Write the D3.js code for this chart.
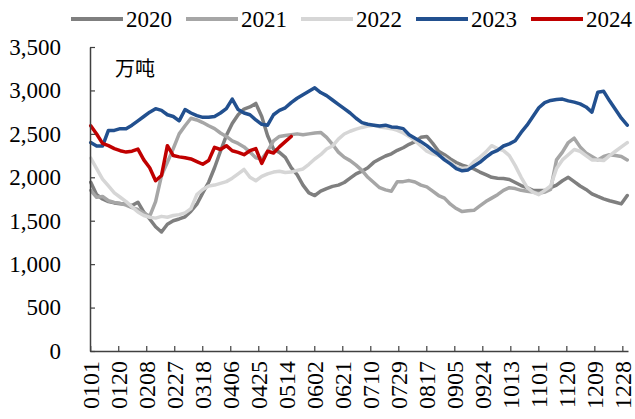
<!DOCTYPE html>
<html><head><meta charset="utf-8">
<script src="https://cdn.jsdelivr.net/npm/d3@7"></script>
<style>
html,body{margin:0;padding:0;background:#fff;}
svg{display:block;}
</style></head>
<body>
<svg id="chart" width="635" height="419"></svg>
<script>
// ---- data ----
const years = ["2020","2021","2022","2023","2024"];
const colors = ["#7f7f7f","#a6a6a6","#d6d6d6","#22508f","#c00000"];
const tickLabels = ["0101","0120","0208","0227","0318","0406","0425","0514","0602","0621","0710","0729","0817","0905","0924","1013","1101","1120","1209","1228"];
const yTicks = [0,500,1000,1500,2000,2500,3000,3500];
const unitLabel = "万吨";
const sampleStep = 4; // values below are read every 4th day, starting 0101

const v2020 = [1943,1800,1750,1720,1705,1695,1690,1675,1713,1600,1520,1430,1370,1460,1500,1520,1545,1610,1690,1820,1943,2110,2300,2480,2620,2720,2785,2810,2850,2700,2479,2326,2287,2230,2110,2030,1910,1820,1790,1840,1870,1895,1910,1940,1990,2040,2070,2110,2172,2210,2245,2270,2310,2340,2380,2410,2460,2470,2390,2300,2260,2211,2170,2140,2120,2096,2060,2030,2000,1990,1985,1975,1940,1905,1880,1850,1848,1848,1880,1910,1960,2000,1950,1900,1860,1810,1780,1752,1730,1713,1694,1790];
const v2021 = [1850,1770,1780,1730,1710,1700,1680,1650,1630,1590,1550,1720,2020,2172,2330,2500,2593,2680,2660,2630,2593,2560,2510,2470,2420,2390,2350,2290,2225,2211,2300,2420,2470,2480,2490,2500,2490,2500,2510,2516,2460,2380,2290,2230,2192,2140,2080,2000,1940,1880,1855,1840,1950,1950,1962,1945,1910,1890,1840,1790,1760,1690,1640,1605,1615,1620,1670,1720,1760,1800,1850,1880,1870,1850,1840,1830,1815,1830,1860,2200,2290,2400,2450,2350,2280,2240,2200,2240,2260,2250,2240,2200];
const v2022 = [2220,2100,1980,1900,1820,1770,1720,1660,1600,1560,1540,1530,1550,1540,1560,1570,1590,1640,1800,1860,1900,1910,1930,1950,1990,2040,2090,2000,1960,2010,2040,2060,2070,2055,2060,2080,2096,2150,2211,2260,2326,2360,2440,2498,2530,2555,2574,2590,2600,2580,2570,2560,2540,2510,2470,2420,2360,2300,2270,2250,2220,2170,2120,2100,2110,2180,2230,2290,2364,2330,2306,2250,2134,2000,1885,1830,1800,1850,1900,2100,2200,2260,2320,2300,2250,2200,2200,2192,2250,2300,2350,2400];
const v2023 = [2400,2360,2360,2540,2540,2560,2560,2600,2650,2700,2750,2790,2770,2720,2700,2650,2780,2740,2710,2690,2690,2700,2740,2790,2900,2780,2740,2720,2660,2610,2600,2720,2770,2800,2860,2910,2950,2990,3030,2976,2940,2890,2840,2790,2740,2680,2630,2610,2600,2590,2600,2580,2575,2560,2490,2450,2410,2364,2310,2260,2200,2154,2100,2075,2085,2130,2172,2230,2280,2310,2360,2385,2421,2516,2600,2700,2800,2860,2885,2895,2900,2880,2865,2845,2810,2750,2980,2990,2880,2780,2680,2600];
const v2024 = [2593,2498,2390,2364,2330,2306,2290,2300,2325,2200,2110,1960,2020,2364,2250,2235,2225,2211,2180,2150,2192,2345,2320,2364,2306,2287,2260,2306,2330,2160,2300,2280,2350,2410,2470];
const seriesValues = [v2020,v2021,v2022,v2023,v2024];

// ---- categories: every day of a non-leap year, MMDD ----
const fmt = d3.timeFormat("%m%d");
const categories = d3.timeDay.range(new Date(2023,0,1), new Date(2024,0,1)).map(fmt);

// ---- layout ----
const svg = d3.select("#chart");
const pLeft = 90, pRight = 628, pTop = 47, pBottom = 351;
const fontSerif = "'Liberation Serif','Times New Roman',serif";

const xb = d3.scaleBand().domain(categories).range([pLeft, pRight]).padding(0);
const xc = c => xb(c) + xb.bandwidth()/2;
const y = d3.scaleLinear().domain([0, 3500]).range([pBottom, pTop]);

// ---- lines ----
const line = d3.line().x(d => xc(d.c)).y(d => y(d.v));
seriesValues.forEach((vals, i) => {
  const pts = vals.map((v, k) => ({c: categories[k*sampleStep], v}));
  svg.append("path").datum(pts)
    .attr("d", line)
    .attr("fill","none")
    .attr("stroke", colors[i])
    .attr("stroke-width", 3.5)
    .attr("stroke-linejoin","round")
    .attr("stroke-linecap","round");
});

// ---- axes ----
const axisColor = "#404040";
const yAxis = svg.append("g").attr("transform",`translate(${pLeft},0)`)
  .call(d3.axisLeft(y).tickValues(yTicks).tickFormat(d3.format(",")).tickSizeInner(-5).tickSizeOuter(0).tickPadding(29));
yAxis.select(".domain").attr("stroke", axisColor).attr("stroke-width",1.5);
yAxis.selectAll(".tick line").attr("stroke", axisColor).attr("stroke-width",1.2);
yAxis.selectAll(".tick text").attr("fill","#000").style("font-family",fontSerif).style("font-size","23px");

const xAxis = svg.append("g").attr("transform",`translate(0,${pBottom})`)
  .call(d3.axisBottom(xb).tickValues(tickLabels).tickSizeInner(-5).tickSizeOuter(0));
xAxis.select(".domain").attr("stroke", axisColor).attr("stroke-width",1.5);
xAxis.selectAll(".tick line").attr("stroke", axisColor).attr("stroke-width",1.2);
xAxis.selectAll(".tick text")
  .attr("fill","#000")
  .attr("transform","rotate(-90)")
  .attr("x",-10).attr("y",0).attr("dy","0.35em")
  .style("text-anchor","end")
  .style("font-family",fontSerif).style("font-size","24px");

// ---- unit label ----
svg.append("text").attr("x",115).attr("y",76).text(unitLabel)
  .style("font-family","'Noto Sans CJK SC',sans-serif").style("font-size","20px").attr("fill","#000");

// ---- legend ----
const lg = svg.append("g");
years.forEach((yr, i) => {
  const lx = 71 + i*115;
  lg.append("line").attr("x1",lx).attr("x2",lx+52).attr("y1",19).attr("y2",19)
    .attr("stroke",colors[i]).attr("stroke-width",4);
  lg.append("text").attr("x",lx+55).attr("y",27).text(yr)
    .style("font-family",fontSerif).style("font-size","23px").attr("fill","#000");
});
</script>
</body></html>
